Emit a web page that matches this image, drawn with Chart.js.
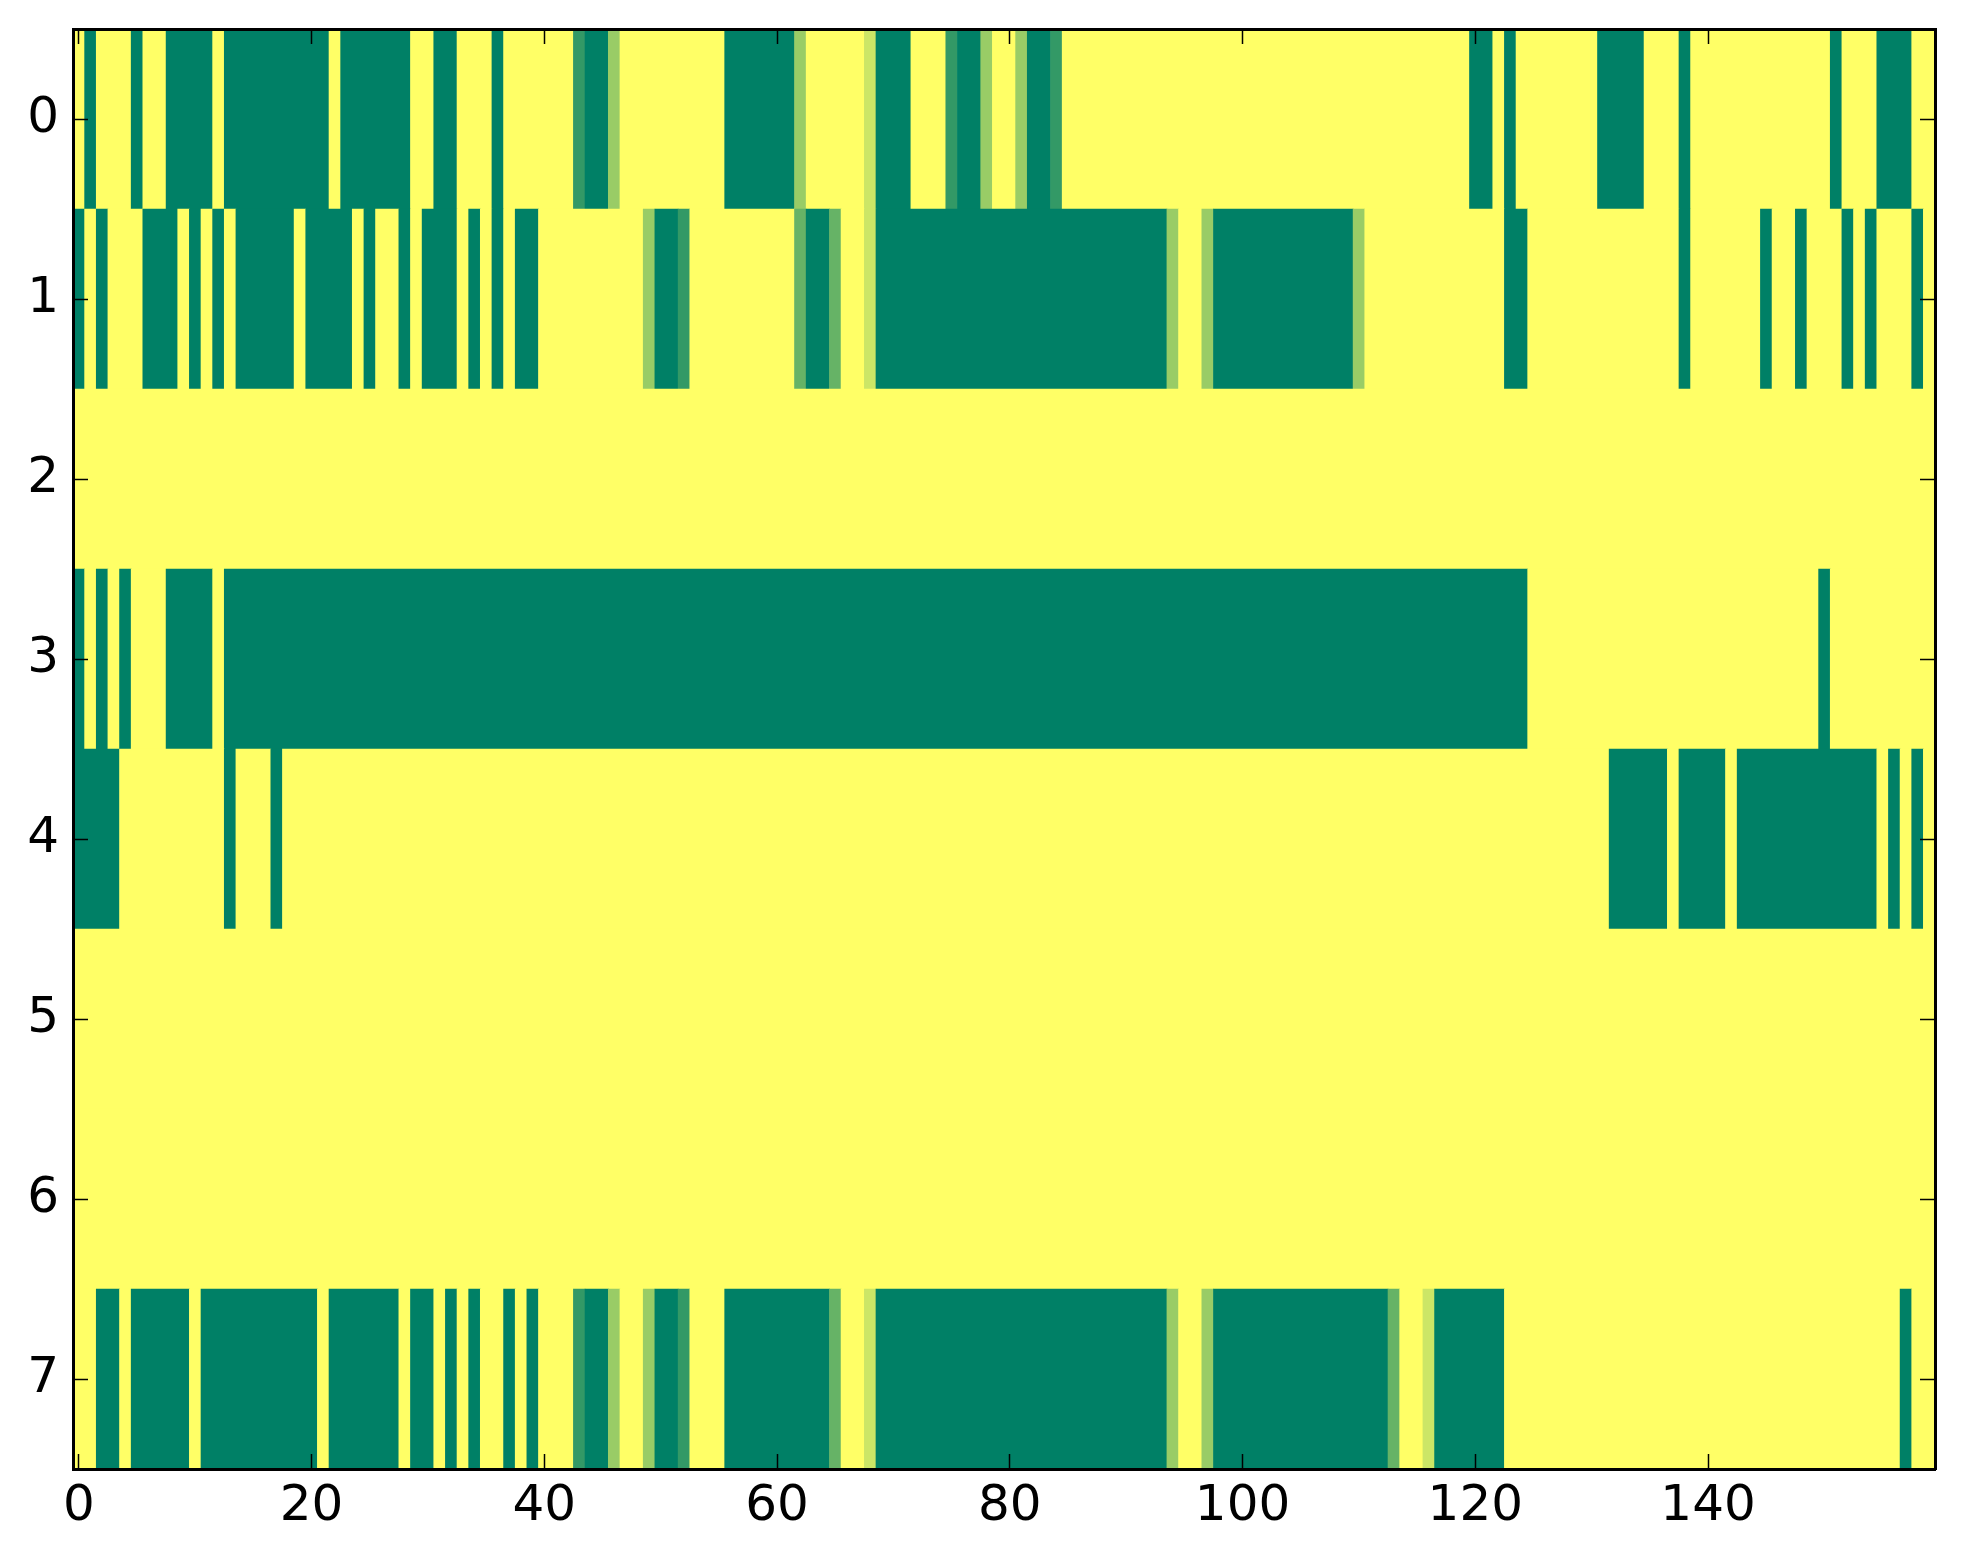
<!DOCTYPE html>
<html>
<head>
<meta charset="utf-8">
<script src="https://cdn.jsdelivr.net/npm/chart.js@4.4.1/dist/chart.umd.min.js"></script>
<style>
body{margin:0;background:#fff}
canvas{display:block}
</style>
</head>
<body>
<canvas id="heat" width="1963" height="1564"></canvas>
<script>
var rowLabels = ['0', '1', '2', '3', '4', '5', '6', '7'];
var xTicks = [0, 20, 40, 60, 80, 100, 120, 140];

// one value per cell, level 0 (green) .. 5 (yellow)
var row0 = [5,0,5,5,5,0,5,5,0,0, 0,0,5,0,0,0,0,0,0,0,
            0,0,5,0,0,0,0,0,0,5, 5,0,0,5,5,5,0,5,5,5,
            5,5,5,1,0,0,3,5,5,5, 5,5,5,5,5,5,0,0,0,0,
            0,0,3,5,5,5,5,5,4,0, 0,0,5,5,5,1,0,0,3,5,
            5,3,0,0,1,5,5,5,5,5, 5,5,5,5,5,5,5,5,5,5,
            5,5,5,5,5,5,5,5,5,5, 5,5,5,5,5,5,5,5,5,5,
            0,0,5,0,5,5,5,5,5,5, 5,0,0,0,0,5,5,5,0,5,
            5,5,5,5,5,5,5,5,5,5, 5,0,5,5,5,0,0,0,5,5];
var row1 = [0,5,0,5,5,5,0,0,0,5, 0,5,0,5,0,0,0,0,0,5,
            0,0,0,0,5,0,5,5,0,5, 0,0,0,5,0,5,0,5,0,0,
            5,5,5,5,5,5,5,5,5,3, 0,0,1,5,5,5,5,5,5,5,
            5,5,2,0,0,2,5,5,4,0, 0,0,0,0,0,0,0,0,0,0,
            0,0,0,0,0,0,0,0,0,0, 0,0,0,0,3,5,5,3,0,0,
            0,0,0,0,0,0,0,0,0,0, 3,5,5,5,5,5,5,5,5,5,
            5,5,5,0,0,5,5,5,5,5, 5,5,5,5,5,5,5,5,0,5,
            5,5,5,5,5,0,5,5,0,5, 5,5,0,5,0,5,5,5,0,5];
var row2 = [5,5,5,5,5,5,5,5,5,5, 5,5,5,5,5,5,5,5,5,5,
            5,5,5,5,5,5,5,5,5,5, 5,5,5,5,5,5,5,5,5,5,
            5,5,5,5,5,5,5,5,5,5, 5,5,5,5,5,5,5,5,5,5,
            5,5,5,5,5,5,5,5,5,5, 5,5,5,5,5,5,5,5,5,5,
            5,5,5,5,5,5,5,5,5,5, 5,5,5,5,5,5,5,5,5,5,
            5,5,5,5,5,5,5,5,5,5, 5,5,5,5,5,5,5,5,5,5,
            5,5,5,5,5,5,5,5,5,5, 5,5,5,5,5,5,5,5,5,5,
            5,5,5,5,5,5,5,5,5,5, 5,5,5,5,5,5,5,5,5,5];
var row3 = [0,5,0,5,0,5,5,5,0,0, 0,0,5,0,0,0,0,0,0,0,
            0,0,0,0,0,0,0,0,0,0, 0,0,0,0,0,0,0,0,0,0,
            0,0,0,0,0,0,0,0,0,0, 0,0,0,0,0,0,0,0,0,0,
            0,0,0,0,0,0,0,0,0,0, 0,0,0,0,0,0,0,0,0,0,
            0,0,0,0,0,0,0,0,0,0, 0,0,0,0,0,0,0,0,0,0,
            0,0,0,0,0,0,0,0,0,0, 0,0,0,0,0,0,0,0,0,0,
            0,0,0,0,0,5,5,5,5,5, 5,5,5,5,5,5,5,5,5,5,
            5,5,5,5,5,5,5,5,5,5, 0,5,5,5,5,5,5,5,5,5];
var row4 = [0,0,0,0,5,5,5,5,5,5, 5,5,5,0,5,5,5,0,5,5,
            5,5,5,5,5,5,5,5,5,5, 5,5,5,5,5,5,5,5,5,5,
            5,5,5,5,5,5,5,5,5,5, 5,5,5,5,5,5,5,5,5,5,
            5,5,5,5,5,5,5,5,5,5, 5,5,5,5,5,5,5,5,5,5,
            5,5,5,5,5,5,5,5,5,5, 5,5,5,5,5,5,5,5,5,5,
            5,5,5,5,5,5,5,5,5,5, 5,5,5,5,5,5,5,5,5,5,
            5,5,5,5,5,5,5,5,5,5, 5,5,0,0,0,0,0,5,0,0,
            0,0,5,0,0,0,0,0,0,0, 0,0,0,0,0,5,0,5,0,5];
var row5 = [5,5,5,5,5,5,5,5,5,5, 5,5,5,5,5,5,5,5,5,5,
            5,5,5,5,5,5,5,5,5,5, 5,5,5,5,5,5,5,5,5,5,
            5,5,5,5,5,5,5,5,5,5, 5,5,5,5,5,5,5,5,5,5,
            5,5,5,5,5,5,5,5,5,5, 5,5,5,5,5,5,5,5,5,5,
            5,5,5,5,5,5,5,5,5,5, 5,5,5,5,5,5,5,5,5,5,
            5,5,5,5,5,5,5,5,5,5, 5,5,5,5,5,5,5,5,5,5,
            5,5,5,5,5,5,5,5,5,5, 5,5,5,5,5,5,5,5,5,5,
            5,5,5,5,5,5,5,5,5,5, 5,5,5,5,5,5,5,5,5,5];
var row6 = [5,5,5,5,5,5,5,5,5,5, 5,5,5,5,5,5,5,5,5,5,
            5,5,5,5,5,5,5,5,5,5, 5,5,5,5,5,5,5,5,5,5,
            5,5,5,5,5,5,5,5,5,5, 5,5,5,5,5,5,5,5,5,5,
            5,5,5,5,5,5,5,5,5,5, 5,5,5,5,5,5,5,5,5,5,
            5,5,5,5,5,5,5,5,5,5, 5,5,5,5,5,5,5,5,5,5,
            5,5,5,5,5,5,5,5,5,5, 5,5,5,5,5,5,5,5,5,5,
            5,5,5,5,5,5,5,5,5,5, 5,5,5,5,5,5,5,5,5,5,
            5,5,5,5,5,5,5,5,5,5, 5,5,5,5,5,5,5,5,5,5];
var row7 = [5,5,0,0,5,0,0,0,0,0, 5,0,0,0,0,0,0,0,0,0,
            0,5,0,0,0,0,0,0,5,0, 0,5,0,5,0,5,5,0,5,0,
            5,5,5,1,0,0,3,5,5,3, 0,0,1,5,5,5,0,0,0,0,
            0,0,0,0,0,2,5,5,4,0, 0,0,0,0,0,0,0,0,0,0,
            0,0,0,0,0,0,0,0,0,0, 0,0,0,0,3,5,5,3,0,0,
            0,0,0,0,0,0,0,0,0,0, 0,0,0,2,5,5,4,0,0,0,
            0,0,0,5,5,5,5,5,5,5, 5,5,5,5,5,5,5,5,5,5,
            5,5,5,5,5,5,5,5,5,5, 5,5,5,5,5,5,5,0,5,5];

var rows = [row0, row1, row2, row3, row4, row5, row6, row7];

// matplotlib 'summer' colormap
function summer(level){
    var v = level / 5;
    return 'rgb(' + Math.round(255 * v) + ',' + Math.round(255 * (0.5 + v / 2)) + ',102)';
}

// neighbouring cells with the same value are joined into one bar (no seams)
var cells = [];
rows.forEach(function(row, r){
    var start = 0;
    for (var c = 1; c <= row.length; c++) {
        if (c == row.length || row[c] != row[start]) {
            cells.push({x: [start - 0.5, c - 0.5], y: rowLabels[r], v: row[start]});
            start = c;
        }
    }
});

var font = {family: 'DejaVu Sans', size: 50};
var edge = {display: true, color: '#000', width: 3, z: 1};
function tickGrid(){
    return {drawOnChartArea: false, drawTicks: true, tickLength: -15, tickWidth: 1.5, tickColor: '#000', offset: false, z: 1};
}
function setXTicks(s){
    s.ticks = xTicks.map(function(v){ return {value: v}; });
}
// fixed axis sizes, no extra label padding
function fixSize(w, h){
    return function(s){
        if (w !== null) s.width = w;
        if (h !== null) s.height = h;
        s.paddingTop = 0; s.paddingBottom = 0;
        s.paddingLeft = 0; s.paddingRight = 0;
    };
}

new Chart(document.getElementById('heat'), {
    type: 'bar',
    data: {
        labels: rowLabels,
        datasets: [{
            data: cells,
            backgroundColor: function(ctx){ return ctx.raw ? summer(ctx.raw.v) : '#fff'; },
            borderWidth: 0,
            barPercentage: 1,
            categoryPercentage: 1
        }]
    },
    options: {
        indexAxis: 'y',
        responsive: false,
        animation: false,
        devicePixelRatio: 1,
        layout: {padding: {left: 0, right: 28, top: 29, bottom: 0}, autoPadding: false},
        plugins: {
            legend: {display: false},
            tooltip: {enabled: false}
        },
        scales: {
            x: {
                type: 'linear', position: 'bottom', min: -0.5, max: 159.5,
                afterBuildTicks: setXTicks,
                afterFit: fixSize(null, 95),
                grid: tickGrid(), border: edge,
                ticks: {color: '#000', font: font, padding: 23, maxRotation: 0, autoSkip: false}
            },
            x2: {
                type: 'linear', position: 'top', min: -0.5, max: 159.5,
                afterBuildTicks: setXTicks,
                afterFit: fixSize(null, 0),
                grid: tickGrid(), border: edge,
                ticks: {display: false}
            },
            y: {
                type: 'category', position: 'left', offset: true,
                afterFit: fixSize(73, null),
                grid: tickGrid(), border: edge,
                ticks: {color: '#000', font: font, padding: 29}
            },
            y2: {
                type: 'category', position: 'right', offset: true, labels: rowLabels,
                afterFit: fixSize(0, null),
                grid: tickGrid(), border: edge,
                ticks: {display: false}
            }
        }
    }
});
</script>
</body>
</html>
